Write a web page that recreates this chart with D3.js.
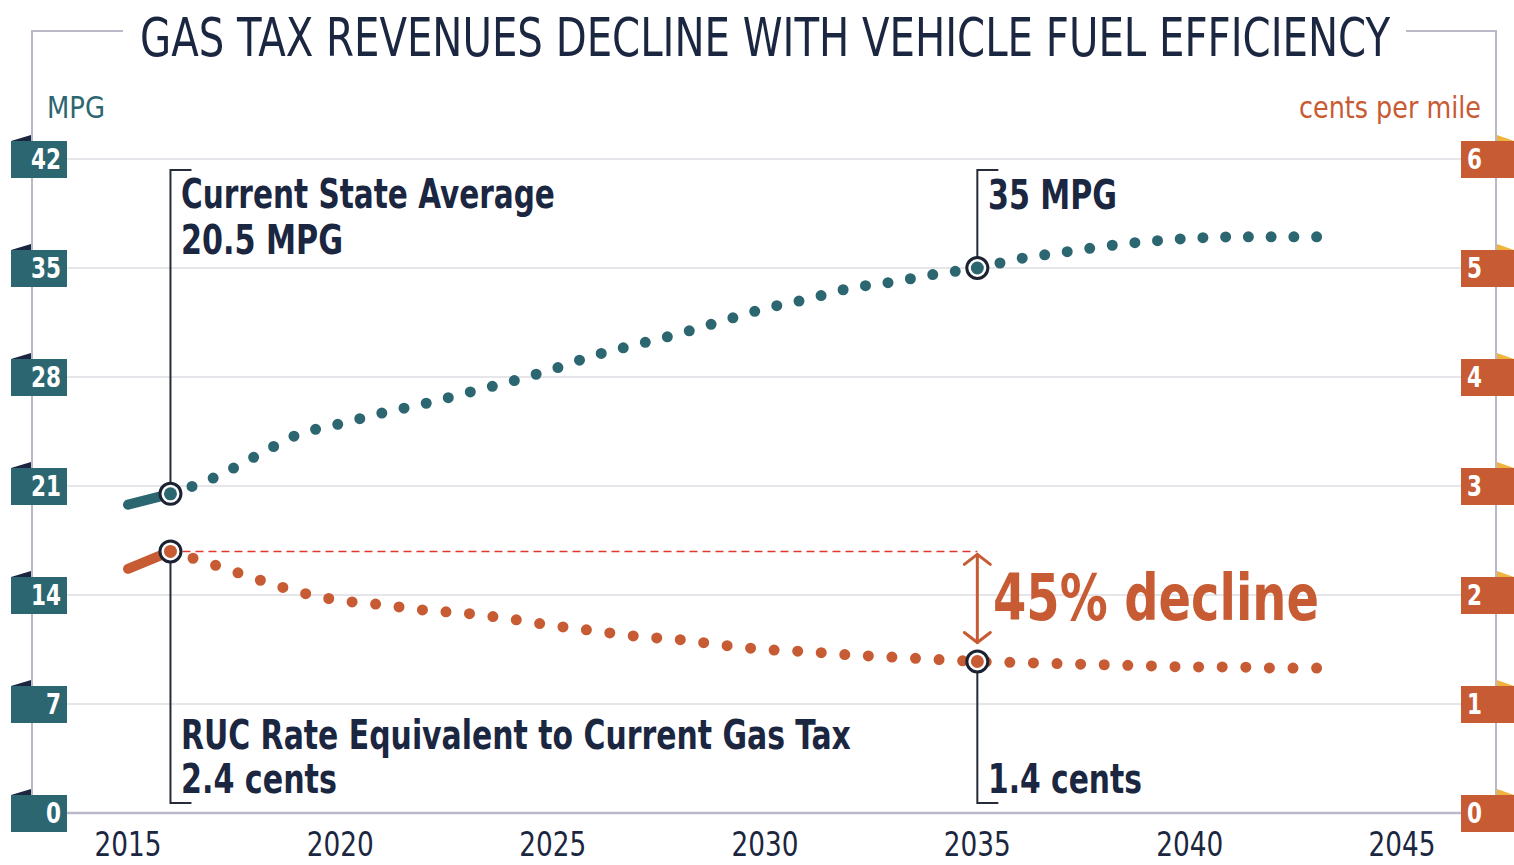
<!DOCTYPE html>
<html><head><meta charset="utf-8">
<script src="https://cdn.jsdelivr.net/npm/d3@7"></script>
<style>
html,body{margin:0;padding:0;background:#fff;}
svg text{font-family:"Liberation Sans Narrow","DejaVu Sans Condensed","Roboto Condensed",Roboto,"Liberation Sans",sans-serif;}
</style></head>
<body>
<svg id="chart" width="1514" height="865"></svg>
<script>
// ---- data ----
const years = [2015,2016,2017,2018,2019,2020,2021,2022,2023,2024,2025,2026,2027,2028,2029,2030,2031,2032,2033,2034,2035,2036,2037,2038,2039,2040,2041,2042,2043];
const mpg = [19.8,20.5,21.5,22.9,24.3,25.0,25.7,26.3,27.0,27.7,28.5,29.4,30.1,30.8,31.6,32.4,33.0,33.7,34.1,34.6,35.0,35.6,36.0,36.4,36.7,36.9,37.0,37.0,37.0];
const cents = [2.24,2.4,2.28,2.15,2.03,1.95,1.91,1.86,1.83,1.78,1.72,1.67,1.62,1.59,1.54,1.50,1.48,1.45,1.43,1.41,1.39,1.38,1.37,1.36,1.35,1.34,1.34,1.33,1.33];
const yearTicks = [2015,2020,2025,2030,2035,2040,2045];
const mpgTicks = [0,7,14,21,28,35,42];
const centTicks = [0,1,2,3,4,5,6];
const title = "GAS TAX REVENUES DECLINE WITH VEHICLE FUEL EFFICIENCY";

const TEAL="#2c6670", ORANGE="#c75b33", NAVY="#1b2640", FRAME="#b9b9c9", GRID="#dedee3";

const svg = d3.select("#chart");
const x = d3.scaleLinear().domain([2015,2045]).range([128,1402]);
const yL = d3.scaleLinear().domain([0,42]).range([813,159]);
const yR = d3.scaleLinear().domain([0,6]).range([813,159]);

// helper: place text and squeeze horizontally to a target width via transform
function fitText(sel, cx, cy, w){
  const n = sel.node();
  const nat = n.getComputedTextLength();
  const sx = Math.min(1.2, w/nat);
  sel.attr("x",0).attr("y",0).attr("transform",`translate(${cx},${cy}) scale(${sx},1)`);
  return sel;
}

// frame
svg.append("path").attr("d","M32,795 V31 H123").attr("fill","none").attr("stroke",FRAME).attr("stroke-width",2);
svg.append("path").attr("d","M1406,31 H1496 V795").attr("fill","none").attr("stroke",FRAME).attr("stroke-width",2);

// title
fitText(svg.append("text").attr("text-anchor","middle").attr("font-size",54).attr("fill",NAVY).text(title), 765, 56, 1250);

// gridlines
svg.append("g").selectAll("line").data(mpgTicks.filter(d=>d>0)).join("line")
  .attr("x1",67).attr("x2",1461).attr("y1",d=>yL(d)).attr("y2",d=>yL(d))
  .attr("stroke",GRID).attr("stroke-width",1.5);
svg.append("line").attr("x1",67).attr("x2",1461).attr("y1",yL(0)).attr("y2",yL(0)).attr("stroke",FRAME).attr("stroke-width",2.5);

// x axis
const xa = svg.append("g").attr("transform","translate(0,0)")
  .call(d3.axisBottom(x).tickValues(yearTicks).tickFormat(d3.format("d")).tickSize(0));
xa.select(".domain").remove();
xa.selectAll(".tick").attr("transform",null);
xa.selectAll(".tick text").attr("font-size",33).attr("fill",NAVY).attr("dy",null)
  .attr("font-family",'"Liberation Sans Narrow","DejaVu Sans Condensed",Roboto,sans-serif')
  .each(function(d){ fitText(d3.select(this), x(d), 856, 67); });

// axis titles
fitText(svg.append("text").attr("font-size",31).attr("fill",TEAL).text("MPG"), 47, 118, 58);
fitText(svg.append("text").attr("text-anchor","end").attr("font-size",31).attr("fill",ORANGE).text("cents per mile"), 1481, 118, 182);

// left tags
const lt = svg.append("g").selectAll("g").data(mpgTicks).join("g").attr("transform",d=>`translate(0,${yL(d)})`);
lt.append("path").attr("d","M11,-18 L31,-24 L31,-18 Z").attr("fill",NAVY);
lt.append("rect").attr("x",11).attr("y",-18).attr("width",56).attr("height",37).attr("fill",TEAL);
lt.append("text").attr("text-anchor","end").attr("dy","0.36em")
  .attr("font-size",28).attr("font-weight","bold").attr("fill","#fff").text(d=>d)
  .each(function(d){ fitText(d3.select(this), 61, 0, String(d).length*15); });

// right tags
const rt = svg.append("g").selectAll("g").data(centTicks).join("g").attr("transform",d=>`translate(0,${yR(d)})`);
rt.append("path").attr("d","M1497,-24 L1514,-18 L1497,-18 Z").attr("fill","#f0b43c");
rt.append("rect").attr("x",1461).attr("y",-18).attr("width",53).attr("height",37).attr("fill",ORANGE);
rt.append("text").attr("dy","0.36em")
  .attr("font-size",28).attr("font-weight","bold").attr("fill","#fff").text(d=>d)
  .each(function(d){ fitText(d3.select(this), 1467, 0, 15); });

// annotation brackets
const bx1 = x(2016), bx2 = x(2035);
const br = svg.append("g").attr("fill","none").attr("stroke","#252b38").attr("stroke-width",2);
br.append("path").attr("d",`M${bx1+21},170 H${bx1} V${yL(mpg[1])}`);
br.append("path").attr("d",`M${bx1},${yR(cents[1])} V803 H${bx1+21}`);
br.append("path").attr("d",`M${bx2+21},170 H${bx2} V${yL(mpg[20])}`);
br.append("path").attr("d",`M${bx2},${yR(cents[20])} V803 H${bx2+21}`);

// red dashed reference
svg.append("line").attr("x1",bx1+12).attr("x2",bx2).attr("y1",yR(cents[1])).attr("y2",yR(cents[1]))
  .attr("stroke","#e0362c").attr("stroke-width",1.5).attr("stroke-dasharray","8,5");

// double arrow
const ay1 = yR(cents[1])+3, ay2 = yR(cents[20])-19;
const ar = svg.append("g").attr("fill","none").attr("stroke",ORANGE).attr("stroke-width",3).attr("stroke-linecap","round");
ar.append("line").attr("x1",bx2).attr("x2",bx2).attr("y1",ay1).attr("y2",ay2);
ar.append("path").attr("d",`M${bx2-13},${ay1+10} L${bx2},${ay1} L${bx2+13},${ay1+10}`);
ar.append("path").attr("d",`M${bx2-13},${ay2-10} L${bx2},${ay2} L${bx2+13},${ay2-10}`);

// lines
const lineLs = d3.line().x(d=>x(d[0])).y(d=>yL(d[1])).curve(d3.curveMonotoneX);
const lineRs = d3.line().x(d=>x(d[0])).y(d=>yR(d[1])).curve(d3.curveMonotoneX);

const mpgPairs = years.map((y,i)=>[y,mpg[i]]);
const centPairs = years.map((y,i)=>[y,cents[i]]);

svg.append("path").attr("d",lineLs(mpgPairs.slice(0,2))).attr("fill","none").attr("stroke",TEAL).attr("stroke-width",10).attr("stroke-linecap","round");
svg.append("path").attr("d",lineRs(centPairs.slice(0,2))).attr("fill","none").attr("stroke",ORANGE).attr("stroke-width",10).attr("stroke-linecap","round");

function dotted(d, color, gap){
  const p = svg.append("path").attr("d",d).attr("fill","none").attr("stroke",color).attr("stroke-width",11)
    .attr("stroke-linecap","round");
  const L = p.node().getTotalLength();
  const n = Math.round(L/gap);
  p.attr("stroke-dasharray",`0 ${L/n - 0.01}`);
}
dotted(lineLs(mpgPairs.slice(1)), TEAL, 22.7);
dotted(lineRs(centPairs.slice(1)), ORANGE, 23.4);

// markers
const markers = [[2016,yL(mpg[1]),TEAL],[2016,yR(cents[1]),ORANGE],[2035,yL(mpg[20]),TEAL],[2035,yR(cents[20]),ORANGE]];
const mk = svg.append("g").selectAll("g").data(markers).join("g").attr("transform",d=>`translate(${x(d[0])},${d[1]})`);
mk.append("circle").attr("r",10.5).attr("fill","#fff").attr("stroke","#1b2231").attr("stroke-width",3);
mk.append("circle").attr("r",6.5).attr("fill",d=>d[2]);

// annotation texts
const ann = [
  {x:181,y:208,t:"Current State Average",w:374},
  {x:181,y:254,t:"20.5 MPG",w:162},
  {x:988,y:209,t:"35 MPG",w:129},
  {x:181,y:749,t:"RUC Rate Equivalent to Current Gas Tax",w:670},
  {x:181,y:793,t:"2.4 cents",w:156},
  {x:988,y:793,t:"1.4 cents",w:154}
];
svg.append("g").selectAll("text").data(ann).join("text")
  .attr("font-size",40).attr("font-weight","bold").attr("fill",NAVY).text(d=>d.t)
  .each(function(d){ fitText(d3.select(this), d.x, d.y, d.w); });

fitText(svg.append("text").attr("font-size",64).attr("font-weight","bold").attr("fill",ORANGE).text("45% decline"), 993, 620, 326);
</script>
</body></html>
